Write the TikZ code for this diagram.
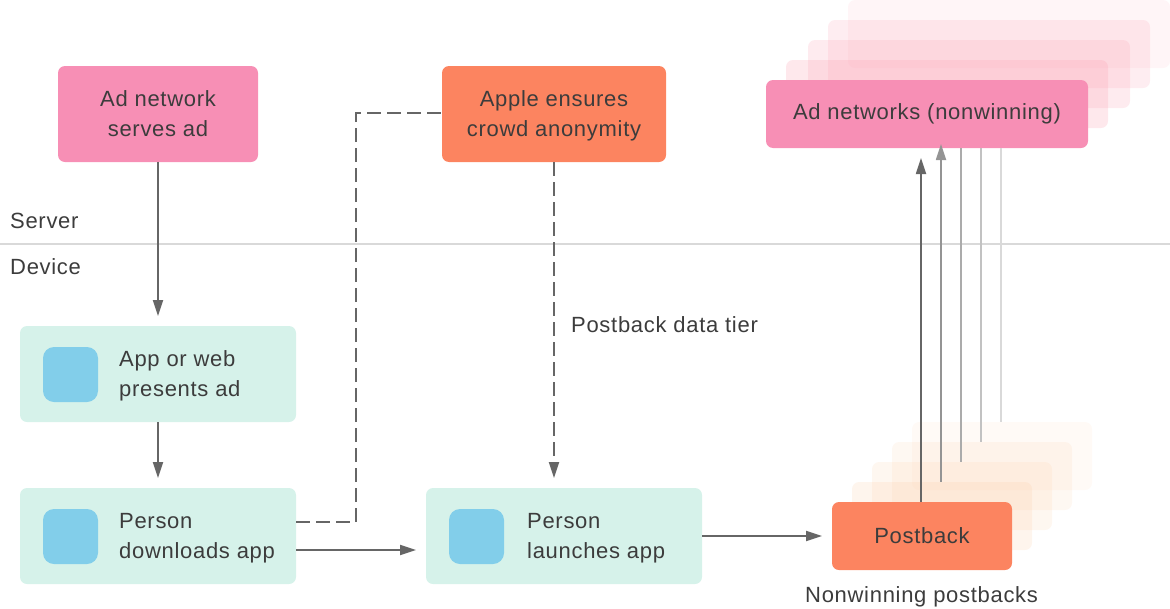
\documentclass[tikz,border=0pt]{standalone}
\usepackage{fontspec}
\setmainfont[LetterSpace=3.2]{Liberation Sans}
\usetikzlibrary{arrows.meta}
\definecolor{adpink}{HTML}{F78FB5}
\definecolor{layerpink}{HTML}{FB9DB0}
\definecolor{appleorange}{HTML}{FC8460}
\definecolor{layerorange}{HTML}{FBC79C}
\definecolor{devgreen}{HTML}{D6F2EA}
\definecolor{iconblue}{HTML}{82CEEA}
\definecolor{inkgray}{HTML}{3C3C3C}
\definecolor{arrowgray}{HTML}{666666}
\newcommand{\topgap}{\rule{0pt}{19pt}}
\tikzset{
    box/.style={rounded corners=7pt,inner sep=0pt,align=center,text=inkgray,font=\fontsize{22}{30}\selectfont},
    label/.style={inner sep=0pt,align=left,anchor=west,text=inkgray,font=\fontsize{22}{30}\selectfont},
    conn/.style={draw=arrowgray,line width=1.8pt,-{Triangle[length=16pt,width=10pt]}},
    dashconn/.style={conn,dash pattern=on 14pt off 6pt},
    dashplain/.style={draw=arrowgray,line width=1.8pt,dash pattern=on 14pt off 6pt},
}
\begin{document}
\begin{tikzpicture}[x=1pt,y=-1pt]
    \useasboundingbox (0,0) rectangle (1170,608);

    % server / device split
    \coordinate (splitL) at (0,244);
    \coordinate (splitR) at (1170,244);
    \draw[gray!30,line width=1.2pt] (splitL) -- (splitR);
    \node[label] (server) at (10,221) {Server};
    \node[label] (device) at (10,267) {Device};

    % stacked ad networks
    \node[box,fill=layerpink,fill opacity=.1,minimum width=322pt,minimum height=68pt] (adD) at (1009,34) {};
    \node[box,fill=layerpink,fill opacity=.18,minimum width=322pt,minimum height=68pt] (adC) at (989,54) {};
    \node[box,fill=layerpink,fill opacity=.2,minimum width=322pt,minimum height=68pt] (adB) at (969,74) {};
    \node[box,fill=layerpink,fill opacity=.24,minimum width=322pt,minimum height=68pt] (adA) at (947,94) {};
    \node[box,fill=adpink,minimum width=322pt,minimum height=68pt] (adnets) at (927,114) {Ad networks (nonwinning)};

    % stacked postbacks
    \node[box,fill=layerorange,fill opacity=.09,minimum width=180pt,minimum height=68pt] (pbD) at (1002,456) {};
    \node[box,fill=layerorange,fill opacity=.13,minimum width=180pt,minimum height=68pt] (pbC) at (982,476) {};
    \node[box,fill=layerorange,fill opacity=.15,minimum width=180pt,minimum height=68pt] (pbB) at (962,496) {};
    \node[box,fill=layerorange,fill opacity=.18,minimum width=180pt,minimum height=68pt] (pbA) at (942,516) {};
    \node[box,fill=appleorange,minimum width=180pt,minimum height=68pt] (postback) at (922,536) {Postback};
    \node[label] (nonwin) at (805,597) {Nonwinning postbacks};

    % top row
    \node[box,fill=adpink,minimum width=200pt,minimum height=96pt] (serves) at (158,114) {Ad network\\serves ad};
    \node[box,fill=appleorange,minimum width=224pt,minimum height=96pt] (apple) at (554,114) {\topgap Apple ensures\\crowd anonymity};

    % device boxes
    \node[box,fill=devgreen,minimum width=276pt,minimum height=96pt] (presents) at (158,374) {};
    \node[box,fill=devgreen,minimum width=276pt,minimum height=96pt] (downloads) at (158,536) {};
    \node[box,fill=devgreen,minimum width=276pt,minimum height=96pt] (launches) at (564,536) {};
    \node[box,fill=iconblue,rounded corners=11pt,minimum width=55pt,minimum height=55pt] (iconA) at (70.5,374.5) {};
    \node[box,fill=iconblue,rounded corners=11pt,minimum width=55pt,minimum height=55pt] (iconB) at (70.5,536.5) {};
    \node[box,fill=iconblue,rounded corners=11pt,minimum width=55pt,minimum height=55pt] (iconC) at (476.5,536.5) {};
    \node[label] (presentsText) at (119,376) {App or web\\presents ad};
    \node[label] (downloadsText) at (119,538) {Person\\downloads app};
    \node[label] (launchesText) at (527,538) {Person\\launches app};
    \node[label] (tier) at (571,325) {Postback data tier};

    % connectors
    \coordinate (servesEnd) at (158,316);
    \coordinate (presentsEnd) at (158,478);
    \coordinate (downloadsEnd) at (416,550);
    \coordinate (downloadsStart) at (296,550);
    \coordinate (launchesEnd) at (822,536);
    \coordinate (appleEnd) at (554,478);
    \coordinate (dashStart) at (296,522);
    \coordinate (dashEnd) at (442,113);
    \draw[conn] (serves.south) -- (servesEnd);
    \draw[conn] (presents.south) -- (presentsEnd);
    \draw[conn] (downloadsStart) -- (downloadsEnd);
    \draw[conn] (launches.east) -- (launchesEnd);
    \draw[dashconn] (apple.south) -- (appleEnd);
    \draw[dashplain] (dashStart) -- (356,522) -- (356,113) -- (dashEnd);

    % postback fan
    \coordinate (upA) at (921,158);
    \coordinate (upB) at (941,144);
    \coordinate (upC) at (961,148);
    \coordinate (upD) at (981,148);
    \coordinate (upE) at (1001,148);
    \draw[conn] (postback.north -| upA) -- (upA);
    \draw[conn,draw=arrowgray!70,fill=arrowgray!70] (pbA.north -| upB) -- (upB);
    \draw[draw=arrowgray!55,line width=1.8pt] (pbB.north -| upC) -- (upC);
    \draw[draw=arrowgray!40,line width=1.8pt] (pbC.north -| upD) -- (upD);
    \draw[draw=arrowgray!25,line width=1.8pt] (pbD.north -| upE) -- (upE);
\end{tikzpicture}
\end{document}
